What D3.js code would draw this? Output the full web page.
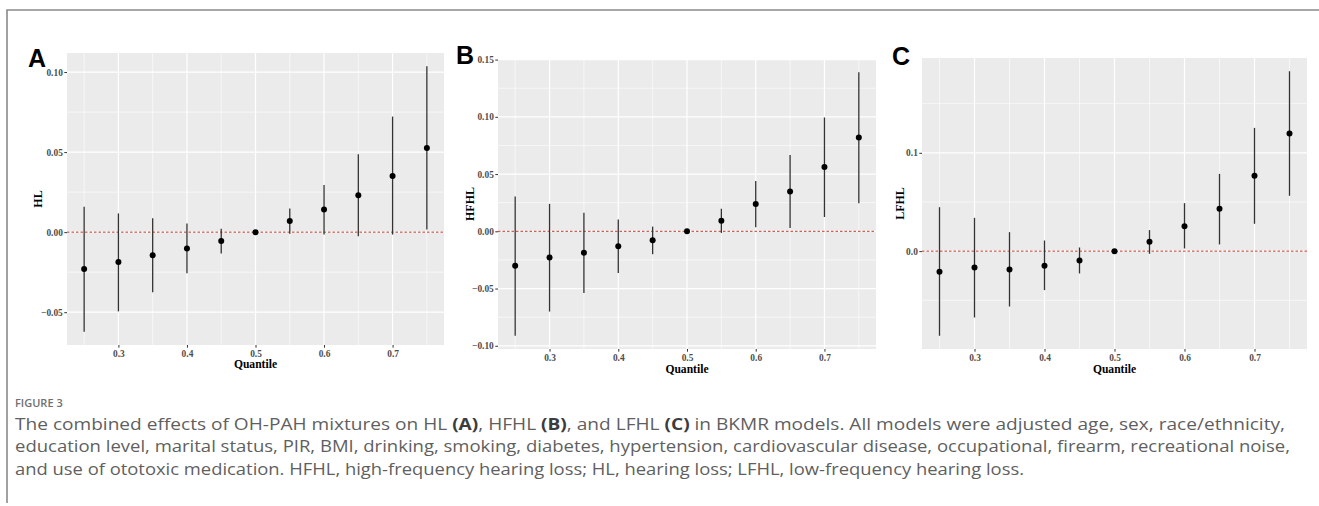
<!DOCTYPE html>
<html>
<head>
<meta charset="utf-8">
<script src="https://cdn.jsdelivr.net/npm/d3@7"></script>
<style>
  body { margin: 0; background: #fff; }
  svg { display: block; }
</style>
</head>
<body>
<div id="chart"></div>
<script>
// quantile grid shared by the three BKMR panels
const quantiles = [0.25, 0.30, 0.35, 0.40, 0.45, 0.50, 0.55, 0.60, 0.65, 0.70, 0.75];
const xTickValues = [0.3, 0.4, 0.5, 0.6, 0.7];

// panel A : HL
const hlEst  = [-0.0230, -0.0186, -0.0144, -0.0102, -0.0056, 0, 0.0069, 0.0142, 0.0230, 0.0351, 0.0526];
const hlLow  = [-0.0622, -0.0495, -0.0376, -0.0257, -0.0134, 0, -0.0010, -0.0015, -0.0025, -0.0015, 0.0017];
const hlHigh = [0.0159, 0.0117, 0.0086, 0.0054, 0.0021, 0, 0.0148, 0.0294, 0.0486, 0.0722, 0.1036];
const hlTicks = [-0.05, 0.00, 0.05, 0.10];

// panel B : HFHL
const hfhlEst  = [-0.0301, -0.0229, -0.0188, -0.0130, -0.0078, 0, 0.0093, 0.0238, 0.0348, 0.0562, 0.0820];
const hfhlLow  = [-0.0913, -0.0701, -0.0539, -0.0365, -0.0200, 0, -0.0014, 0.0035, 0.0029, 0.0125, 0.0246];
const hfhlHigh = [0.0304, 0.0240, 0.0162, 0.0104, 0.0041, 0, 0.0197, 0.0440, 0.0666, 0.0994, 0.1390];
const hfhlTicks = [-0.10, -0.05, 0.00, 0.05, 0.10, 0.15];

// panel C : LFHL
const lfhlEst  = [-0.0210, -0.0166, -0.0186, -0.0149, -0.0095, 0, 0.0095, 0.0254, 0.0430, 0.0766, 0.1197];
const lfhlLow  = [-0.0861, -0.0675, -0.0563, -0.0397, -0.0227, 0, -0.0027, 0.0027, 0.0068, 0.0278, 0.0563];
const lfhlHigh = [0.0447, 0.0339, 0.0193, 0.0108, 0.0037, 0, 0.0214, 0.0488, 0.0786, 0.1254, 0.1830];
const lfhlTicks = [0.0, 0.1];

const captionTitle = "FIGURE 3";
const captionLines = [
  [["The combined effects of OH-PAH mixtures on HL ", false], ["(A)", true], [", HFHL ", false], ["(B)", true],
   [", and LFHL ", false], ["(C)", true], [" in BKMR models. All models were adjusted age, sex, race/ethnicity,", false]],
  [["education level, marital status, PIR, BMI, drinking, smoking, diabetes, hypertension, cardiovascular disease, occupational, firearm, recreational noise,", false]],
  [["and use of ototoxic medication. HFHL, high-frequency hearing loss; HL, hearing loss; LFHL, low-frequency hearing loss.", false]]
];

const W = 1319, H = 506;
const svg = d3.select("#chart").append("svg").attr("width", W).attr("height", H);

// outer frame (top + left only)
svg.append("path")
  .attr("d", "M7,503V10H1319")
  .attr("fill", "none")
  .attr("stroke", "#8a8a8a")
  .attr("stroke-width", 1.6);

const panels = [
  {letter: "A", ylab: "HL", est: hlEst, low: hlLow, high: hlHigh, ticks: hlTicks, fmt: ".2f",
   x0: 67, x1: 444, y0: 53, y1: 345, letterX: 28, letterY: 67, ylabX: 42, xlabY: 368},
  {letter: "B", ylab: "HFHL", est: hfhlEst, low: hfhlLow, high: hfhlHigh, ticks: hfhlTicks, fmt: ".2f",
   x0: 498, x1: 876, y0: 59, y1: 349, letterX: 456, letterY: 64, ylabX: 474, xlabY: 373},
  {letter: "C", ylab: "LFHL", est: lfhlEst, low: lfhlLow, high: lfhlHigh, ticks: lfhlTicks, fmt: ".1f",
   x0: 922, x1: 1307, y0: 58, y1: 349, letterX: 892, letterY: 65, ylabX: 904, xlabY: 373}
];

const serif = "'Liberation Serif', 'Times New Roman', serif";

panels.forEach(p => {
  const g = svg.append("g");

  // ggplot style 5% expansion of the data range
  const xe = d3.extent(quantiles), xpad = (xe[1] - xe[0]) * 0.05;
  const x = d3.scaleLinear().domain([xe[0] - xpad, xe[1] + xpad]).range([p.x0, p.x1]);
  const ylo = d3.min(p.low), yhi = d3.max(p.high), ypad = (yhi - ylo) * 0.05;
  const y = d3.scaleLinear().domain([ylo - ypad, yhi + ypad]).range([p.y1, p.y0]);

  g.append("rect")
    .attr("x", p.x0).attr("y", p.y0)
    .attr("width", p.x1 - p.x0).attr("height", p.y1 - p.y0)
    .attr("fill", "#ebebeb");

  // minor grid
  const step = p.ticks[1] - p.ticks[0];
  const yMinor = d3.range(p.ticks[0] - step / 2, p.ticks[p.ticks.length - 1] + step, step)
    .filter(v => v >= y.domain()[0] && v <= y.domain()[1]);
  const xMinor = quantiles.filter((q, i) => i % 2 === 0);

  g.selectAll(".ymin").data(yMinor).join("line")
    .attr("x1", p.x0).attr("x2", p.x1)
    .attr("y1", d => y(d)).attr("y2", d => y(d))
    .attr("stroke", "#fff").attr("stroke-width", 0.6);
  g.selectAll(".xmin").data(xMinor).join("line")
    .attr("x1", d => x(d)).attr("x2", d => x(d))
    .attr("y1", p.y0).attr("y2", p.y1)
    .attr("stroke", "#fff").attr("stroke-width", 0.6);

  // major grid
  g.selectAll(".ymaj").data(p.ticks).join("line")
    .attr("x1", p.x0).attr("x2", p.x1)
    .attr("y1", d => y(d)).attr("y2", d => y(d))
    .attr("stroke", "#fff").attr("stroke-width", 1.2);
  g.selectAll(".xmaj").data(xTickValues).join("line")
    .attr("x1", d => x(d)).attr("x2", d => x(d))
    .attr("y1", p.y0).attr("y2", p.y1)
    .attr("stroke", "#fff").attr("stroke-width", 1.2);

  // reference line at 0
  g.append("line")
    .attr("x1", p.x0).attr("x2", p.x1)
    .attr("y1", y(0)).attr("y2", y(0))
    .attr("stroke", "#c0392b")
    .attr("stroke-width", 1)
    .attr("stroke-dasharray", "2.5,2");

  // credible intervals
  g.selectAll(".bar").data(quantiles).join("line")
    .attr("x1", d => x(d)).attr("x2", d => x(d))
    .attr("y1", (d, i) => y(p.low[i])).attr("y2", (d, i) => y(p.high[i]))
    .attr("stroke", "#333").attr("stroke-width", 1.3);

  g.selectAll(".pt").data(quantiles).join("circle")
    .attr("cx", d => x(d))
    .attr("cy", (d, i) => y(p.est[i]))
    .attr("r", 3)
    .attr("fill", "#000");

  // axes
  const yAxis = g.append("g")
    .attr("transform", `translate(${p.x0},0)`)
    .call(d3.axisLeft(y).tickValues(p.ticks).tickFormat(d3.format(p.fmt)).tickSize(2.7).tickPadding(1.5));
  const xAxis = g.append("g")
    .attr("transform", `translate(0,${p.y1})`)
    .call(d3.axisBottom(x).tickValues(xTickValues).tickFormat(d3.format(".1f")).tickSize(2.7).tickPadding(2.5));

  [yAxis, xAxis].forEach(a => {
    a.select(".domain").remove();
    a.selectAll(".tick line").attr("stroke", "#333").attr("stroke-width", 1);
    a.selectAll(".tick text")
      .attr("fill", "#4d4d4d")
      .style("font-family", serif)
      .style("font-weight", "bold")
      .style("font-size", "9.4px");
  });

  g.append("text")
    .attr("transform", `translate(${p.ylabX},${(p.y0 + p.y1) / 2}) rotate(-90)`)
    .attr("text-anchor", "middle")
    .style("font-family", serif).style("font-weight", "bold").style("font-size", "12px")
    .text(p.ylab);

  g.append("text")
    .attr("x", (p.x0 + p.x1) / 2).attr("y", p.xlabY)
    .attr("text-anchor", "middle")
    .style("font-family", serif).style("font-weight", "bold").style("font-size", "11.6px")
    .text("Quantile");

  g.append("text")
    .attr("x", p.letterX).attr("y", p.letterY)
    .style("font-family", "'Liberation Sans', Arial, sans-serif")
    .style("font-weight", "bold").style("font-size", "25px")
    .text(p.letter);
});

// caption
svg.append("text")
  .attr("x", 15).attr("y", 407)
  .attr("fill", "#707070")
  .style("font-family", "'Open Sans', sans-serif")
  .style("font-weight", 600)
  .style("font-size", "11px")
  .text(captionTitle);

const lineWidths = [1270, 1275, 1009];
captionLines.forEach((parts, li) => {
  const t = svg.append("text")
    .attr("x", 15).attr("y", 429.5 + li * 22.8)
    .attr("fill", "#5f5f5f")
    .attr("textLength", lineWidths[li])
    .attr("lengthAdjust", "spacingAndGlyphs")
    .style("font-family", "'Open Sans', sans-serif")
    .style("font-size", "16.5px");
  parts.forEach(([s, b]) => {
    t.append("tspan")
      .attr("font-weight", b ? "bold" : null)
      .attr("fill", b ? "#3c3c3c" : null)
      .text(s);
  });
});
</script>
</body>
</html>
